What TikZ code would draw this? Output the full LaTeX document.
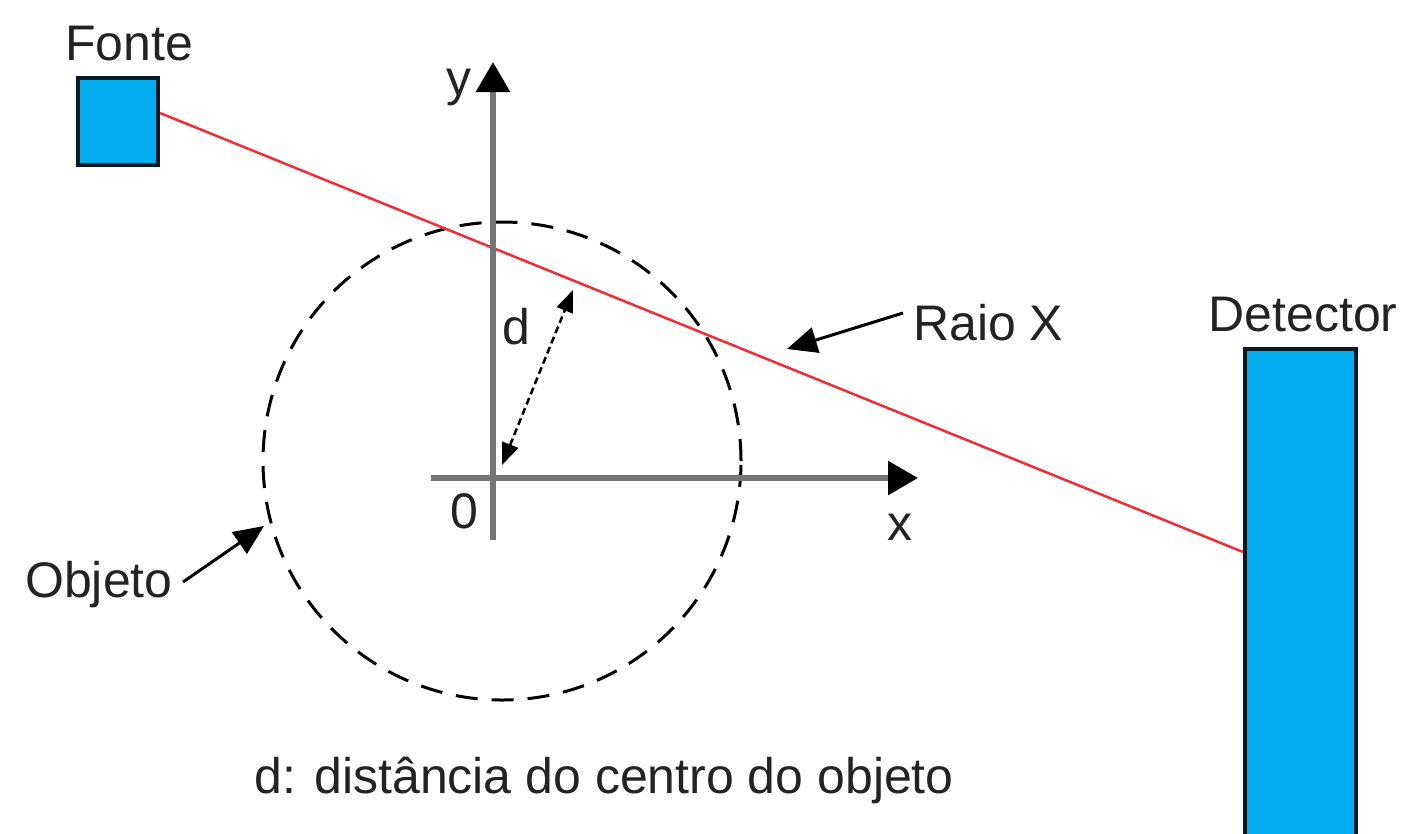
\documentclass[tikz,border=0pt]{standalone}
\usepackage{fontspec}
\setmainfont{Liberation Sans}
\usetikzlibrary{arrows.meta}
\definecolor{boxfill}{RGB}{0,173,239}
\definecolor{boxline}{RGB}{10,25,35}
\definecolor{raycol}{RGB}{238,45,55}
\definecolor{axiscol}{RGB}{118,118,118}
\definecolor{txtcol}{RGB}{35,35,35}
\tikzset{
  box/.style={draw=boxline, fill=boxfill, line width=3.5pt, inner sep=0pt, outer sep=0pt},
  lbl/.style={font=\fontsize{50}{60}\selectfont, text=txtcol, inner sep=0pt},
  ray/.style={draw=raycol, line width=2.5pt},
  axis/.style={draw=axiscol, line width=6pt, -{Triangle[length=30pt,width=33pt,fill=black,color=black]}},
  pointer/.style={draw=black, line width=3pt, -{Triangle[length=30pt,width=26pt]}},
  darrow/.style={draw=black, line width=2.5pt, dash pattern=on 7pt off 4pt, {Triangle[length=22pt,width=17pt]}-{Triangle[length=22pt,width=17pt]}},
  objcircle/.style={draw=black, line width=3pt, dash pattern=on 22pt off 14pt}
}
\begin{document}
\begin{tikzpicture}[x=1pt,y=-1pt]
\useasboundingbox (0,0) rectangle (1405,833);
\clip (0,0) rectangle (1405,833);
% object circle
\node[objcircle, circle, minimum size=478pt, inner sep=0pt] (obj) at (502,461) {};
% source and detector
\node[box, minimum width=80pt, minimum height=87pt] (src) at (118,121.5) {};
\node[box, minimum width=111pt, minimum height=560pt] (det) at (1300.5,629) {};
% x-ray
\coordinate (r1) at (160,113);
\coordinate (r2) at (1243,552);
\draw[ray] (r1) -- (r2);
% axes
\coordinate (O) at (493,478);
\coordinate (xa0) at (431,478);
\coordinate (xa1) at (918,478);
\coordinate (ya0) at (493,540);
\coordinate (ya1) at (493,62);
\draw[axis] (xa0) -- (xa1);
\draw[axis] (ya0) -- (ya1);
% distance d
\coordinate (d0) at (502,465);
\coordinate (d1) at (573,290);
\draw[darrow] (d0) -- (d1);
% labels
\node[lbl, anchor=base] (fonte) at (129,60) {Fonte};
\node[lbl, anchor=base] (ylab) at (459,95) {y};
\node[lbl, anchor=base] (xlab) at (900,540) {x};
\node[lbl, anchor=base] (zero) at (464,528) {0};
\node[lbl, anchor=base] (dlab) at (516,344) {d};
\node[lbl, anchor=base west] (raio) at (913,340) {Raio X};
\node[lbl, anchor=base] (detl) at (1303,331) {Detector};
\node[lbl, anchor=base west] (objl) at (25,597) {Objeto};
\node[lbl, anchor=base] (cap) at (604,793) {d: distância do centro do objeto};
% pointers
\coordinate (rxs) at (903,313);
\coordinate (rxt) at (787,349);
\draw[pointer] (rxs) -- (rxt);
\coordinate (obs) at (183,582);
\coordinate (obt) at (264,526);
\draw[pointer] (obs) -- (obt);
\end{tikzpicture}
\end{document}
